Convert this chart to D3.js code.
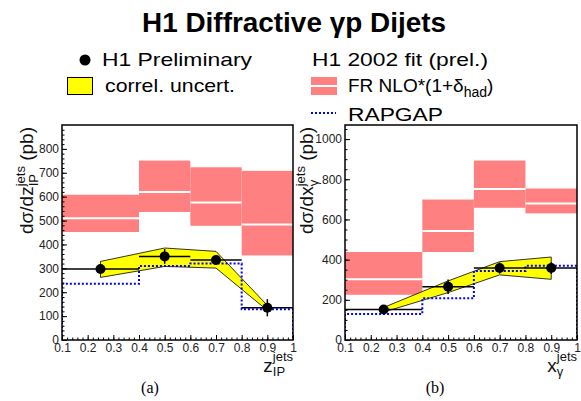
<!DOCTYPE html>
<html>
<head>
<meta charset="utf-8">
<script src="https://cdn.jsdelivr.net/npm/d3@7"></script>
<style>
  body { margin: 0; background: #fff; }
  svg { display: block; font-family: "Liberation Sans", Arial, sans-serif; }
  .tick text { fill: #222; font-size: 12px; }
</style>
</head>
<body>
<div id="chart"></div>
<script>
// bins shared by both panels
const binEdges = [0.1, 0.4, 0.6, 0.8, 1.0];
const binCentres = [0.25, 0.5, 0.7, 0.9];

// (a) d sigma / d z_IP
const zData = [297, 350, 335, 135];
const zErr = [15, 31, 18, 36];
const zBandHi = [329, 385, 371, 145];
const zBandLo = [262, 308, 301, 124];
const zNloLo = [452, 536, 478, 354];
const zNloMid = [510, 620, 576, 484];
const zNloHi = [608, 751, 723, 708];
const zRapgap = [235, 310, 320, 129];

// (b) d sigma / d x_gamma
const xgData = [152, 265, 358, 358];
const xgErr = [9, 36, 28, 29];
const xgBandHi = [162, 294, 390, 413];
const xgBandLo = [139, 236, 324, 302];
const xgNloLo = [225, 438, 658, 630];
const xgNloMid = [302, 542, 752, 679];
const xgNloHi = [438, 699, 893, 754];
const xgRapgap = [129, 208, 344, 369];

// ticks
const xTicks = [0.1, 0.2, 0.3, 0.4, 0.5, 0.6, 0.7, 0.8, 0.9, 1.0];
const zYTicks = [0, 100, 200, 300, 400, 500, 600, 700, 800];
const xgYTicks = [0, 200, 400, 600, 800, 1000];

const W = 581, H = 401;
const svg = d3.select('#chart').append('svg')
  .attr('width', W).attr('height', H);

// title
svg.append('text')
  .attr('x', 294).attr('y', 32)
  .attr('text-anchor', 'middle')
  .attr('font-size', 27).attr('font-weight', 'bold')
  .attr('textLength', 304).attr('lengthAdjust', 'spacingAndGlyphs')
  .text('H1 Diffractive γp Dijets');

// legend
const leg = svg.append('g').attr('font-size', 19);
leg.append('circle').attr('cx', 85).attr('cy', 60).attr('r', 5.5).attr('fill', '#000');
leg.append('text').attr('x', 102).attr('y', 66)
  .attr('textLength', 150).attr('lengthAdjust', 'spacingAndGlyphs').text('H1 Preliminary');
leg.append('rect').attr('x', 67.5).attr('y', 77.5).attr('width', 25).attr('height', 17)
  .attr('fill', '#ffff00').attr('stroke', '#000').attr('stroke-width', 1);
leg.append('text').attr('x', 105).attr('y', 92)
  .attr('textLength', 130).attr('lengthAdjust', 'spacingAndGlyphs').text('correl. uncert.');
leg.append('text').attr('x', 312).attr('y', 66)
  .attr('textLength', 176).attr('lengthAdjust', 'spacingAndGlyphs').text('H1 2002 fit (prel.)');
leg.append('rect').attr('x', 311).attr('y', 77).attr('width', 26).attr('height', 18)
  .attr('fill', '#ff8080');
leg.append('line').attr('x1', 311).attr('x2', 337).attr('y1', 86).attr('y2', 86)
  .attr('stroke', '#fff').attr('stroke-width', 2);
const fr = leg.append('text').attr('x', 348).attr('y', 92);
fr.append('tspan').text('FR NLO*(1+δ');
fr.append('tspan').attr('font-size', 14).attr('dy', 5).text('had');
fr.append('tspan').attr('dy', -5).text(')');
leg.append('line').attr('x1', 311).attr('x2', 336).attr('y1', 113).attr('y2', 113)
  .attr('stroke', '#0000ff').attr('stroke-width', 2).attr('stroke-dasharray', '2,2');
leg.append('text').attr('x', 348).attr('y', 120.5)
  .attr('textLength', 95).attr('lengthAdjust', 'spacingAndGlyphs').text('RAPGAP');

const panels = [
  { id: 'a', left: 62, right: 293, yMax: 900, yTicks: zYTicks, yMinor: 20,
    data: zData, err: zErr, bandHi: zBandHi, bandLo: zBandLo,
    nloLo: zNloLo, nloMid: zNloMid, nloHi: zNloHi, rapgap: zRapgap,
    varMain: 'z', varSub: 'IP', yLabelX: 33, tag: '(a)', tagX: 150 },
  { id: 'b', left: 345, right: 577, yMax: 1070, yTicks: xgYTicks, yMinor: 50,
    data: xgData, err: xgErr, bandHi: xgBandHi, bandLo: xgBandLo,
    nloLo: xgNloLo, nloMid: xgNloMid, nloHi: xgNloHi, rapgap: xgRapgap,
    varMain: 'x', varSub: 'γ', yLabelX: 313, tag: '(b)', tagX: 435 },
];

const TOP = 125, BOTTOM = 340;

panels.forEach(p => {
  const x = d3.scaleLinear().domain([0.1, 1.0]).range([p.left, p.right]);
  const y = d3.scaleLinear().domain([0, p.yMax]).range([BOTTOM, TOP]);

  svg.append('clipPath').attr('id', 'clip-' + p.id)
    .append('rect').attr('x', p.left).attr('y', TOP)
    .attr('width', p.right - p.left).attr('height', BOTTOM - TOP);

  // pad background covers the legend overflow
  svg.append('rect').attr('x', p.left).attr('y', TOP)
    .attr('width', p.right - p.left).attr('height', BOTTOM - TOP)
    .attr('fill', '#fff');

  const g = svg.append('g').attr('clip-path', `url(#clip-${p.id})`);

  // NLO bands
  const bins = binCentres.map((c, i) => ({ i, lo: binEdges[i], hi: binEdges[i + 1] }));
  g.selectAll('.nlo').data(bins).enter().append('rect')
    .attr('x', d => x(d.lo)).attr('width', d => x(d.hi) - x(d.lo))
    .attr('y', d => y(p.nloHi[d.i]))
    .attr('height', d => y(p.nloLo[d.i]) - y(p.nloHi[d.i]))
    .attr('fill', '#ff8080');
  g.selectAll('.nlomid').data(bins).enter().append('line')
    .attr('x1', d => x(d.lo)).attr('x2', d => x(d.hi))
    .attr('y1', d => y(p.nloMid[d.i])).attr('y2', d => y(p.nloMid[d.i]))
    .attr('stroke', '#fff').attr('stroke-width', 2);

  // correlated uncertainty band
  const bandPts = binCentres.map((c, i) => [x(c), y(p.bandHi[i])])
    .concat(binCentres.map((c, i) => [x(c), y(p.bandLo[i])]).reverse());
  g.append('path')
    .attr('d', d3.line()(bandPts) + 'Z')
    .attr('fill', '#ffff00').attr('stroke', '#000').attr('stroke-width', 0.8);

  // RAPGAP histogram
  const rp = d3.path();
  rp.moveTo(x(binEdges[0]), y(0));
  p.rapgap.forEach((v, i) => {
    rp.lineTo(x(binEdges[i]), y(v));
    rp.lineTo(x(binEdges[i + 1]), y(v));
  });
  rp.lineTo(x(binEdges[binEdges.length - 1]), y(0));
  g.append('path').attr('d', rp.toString())
    .attr('fill', 'none').attr('stroke', '#0000ff')
    .attr('stroke-width', 2).attr('stroke-dasharray', '2,2');

  // data: bin widths, error bars, markers
  g.selectAll('.hbar').data(bins).enter().append('line')
    .attr('x1', d => x(d.lo)).attr('x2', d => x(d.hi))
    .attr('y1', d => y(p.data[d.i])).attr('y2', d => y(p.data[d.i]))
    .attr('stroke', '#000').attr('stroke-width', 1.5);
  g.selectAll('.vbar').data(bins).enter().append('line')
    .attr('x1', d => x(binCentres[d.i])).attr('x2', d => x(binCentres[d.i]))
    .attr('y1', d => y(p.data[d.i] - p.err[d.i]))
    .attr('y2', d => y(p.data[d.i] + p.err[d.i]))
    .attr('stroke', '#000').attr('stroke-width', 1.5);
  g.selectAll('.pt').data(bins).enter().append('circle')
    .attr('cx', d => x(binCentres[d.i])).attr('cy', d => y(p.data[d.i]))
    .attr('r', 5).attr('fill', '#000');

  // axes, ticks pointing into the frame
  const xMinor = d3.range(0.1, 1.0001, 0.02);
  svg.append('g').attr('transform', `translate(0,${BOTTOM})`)
    .call(d3.axisBottom(x).tickValues(xMinor).tickSize(-2.5).tickFormat(''))
    .call(a => a.select('.domain').remove());
  svg.append('g').attr('transform', `translate(0,${BOTTOM})`)
    .call(d3.axisBottom(x).tickValues(xTicks).tickSize(-5).tickPadding(3)
      .tickFormat(d => d === 1 ? '1' : d.toFixed(1)))
    .call(a => a.select('.domain').remove());

  const yMinor = d3.range(0, p.yMax, p.yMinor);
  svg.append('g').attr('transform', `translate(${p.left},0)`)
    .call(d3.axisLeft(y).tickValues(yMinor).tickSize(-2.5).tickFormat(''))
    .call(a => a.select('.domain').remove());
  svg.append('g').attr('transform', `translate(${p.left},0)`)
    .call(d3.axisLeft(y).tickValues(p.yTicks).tickSize(-5).tickPadding(3)
      .tickFormat(d3.format('d')))
    .call(a => a.select('.domain').remove());
  svg.selectAll('.tick line').attr('stroke', '#000');

  // frame
  svg.append('rect').attr('x', p.left).attr('y', TOP)
    .attr('width', p.right - p.left).attr('height', BOTTOM - TOP)
    .attr('fill', 'none').attr('stroke', '#000').attr('stroke-width', 1.5);

  // y-axis title
  const yl = svg.append('text')
    .attr('transform', `translate(${p.yLabelX},127) rotate(-90)`)
    .attr('text-anchor', 'end').attr('font-size', 19).attr('fill', '#111');
  yl.append('tspan').text('dσ/d' + p.varMain);
  const ys = yl.append('tspan').attr('font-size', 13).attr('dy', 5).text(p.varSub);
  yl.append('tspan').attr('font-size', 13)
    .attr('dx', -ys.node().getComputedTextLength()).attr('dy', -13).text('jets');
  yl.append('tspan').attr('dy', 8).text(' (pb)');

  // x-axis title
  const xl = svg.append('text')
    .attr('x', p.right).attr('y', 372)
    .attr('text-anchor', 'end').attr('font-size', 19).attr('fill', '#111');
  xl.append('tspan').text(p.varMain);
  const xs = xl.append('tspan').attr('font-size', 13).attr('dy', 4).text(p.varSub);
  xl.append('tspan').attr('font-size', 13)
    .attr('dx', -xs.node().getComputedTextLength()).attr('dy', -15).text('jets');

  svg.append('text').attr('x', p.tagX).attr('y', 393)
    .attr('text-anchor', 'middle')
    .attr('font-family', '"Liberation Serif", "DejaVu Serif", serif')
    .attr('font-size', 16)
    .text(p.tag);
});
</script>
</body>
</html>
